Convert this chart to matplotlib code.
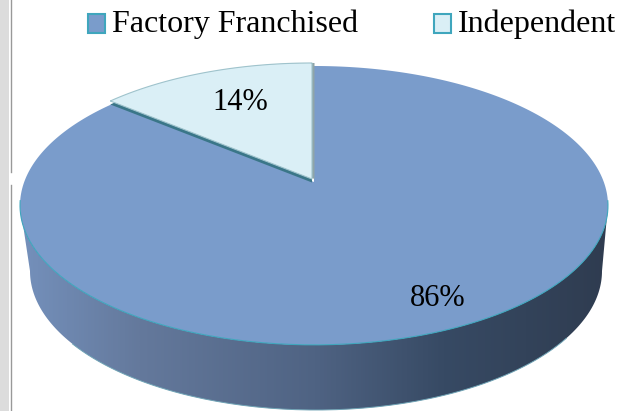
import numpy as np
import matplotlib
matplotlib.use("Agg")
import matplotlib.pyplot as plt
from matplotlib.patches import Polygon, Rectangle, Patch
from matplotlib.colors import LinearSegmentedColormap

categories = ["Factory Franchised", "Independent"]
values = [86, 14]
colors = ["#7a9ccb", "#daeff6"]
edge_colors = ["#3fa6bd", "#3fa6bd"]
label_radius = [0.83, 0.68]
label_nudge = [(6, 0), (4, -1)]

W, H = 636, 411
plt.rcParams["font.family"] = ["Liberation Serif", "DejaVu Serif"]
fig = plt.figure(figsize=(W / 100, H / 100), dpi=100, facecolor="white")
ax = fig.add_axes([0, 0, 1, 1])

# projection of the pie disc (perspective ellipse)
CX, CY = 314, 182
A, B, P = 289.8, 135.5, 0.168


def project(theta, r=1.0, cx=CX, cy=CY):
    """theta: fraction of circle clockwise from 12 o'clock."""
    t = 2 * np.pi * np.asarray(theta)
    u, v = r * np.sin(t), r * np.cos(t)
    d = 1 + P * v
    return cx + A * u / d, cy - B * v / d


fractions = np.array(values) / sum(values)
starts = np.concatenate([[0], np.cumsum(fractions)[:-1]])
ends = starts + fractions
offsets = [(0, 0), (-2, -3)]


def wedge_points(i):
    th = np.linspace(starts[i], ends[i], 300)
    x, y = project(th, 1.0, CX + offsets[i][0], CY + offsets[i][1])
    return np.vstack([[CX + offsets[i][0], CY + offsets[i][1]], np.column_stack([x, y])])


# side wall with horizontal gradient
th_all = np.linspace(0, 1, 721)
xt, yt = project(th_all)
ext_l, ext_r = np.argmin(xt), np.argmax(xt)
order = np.arange(ext_r, ext_l + 1)
tx, ty = xt[order], yt[order]
bot = np.linspace(0, np.pi, 200)
bx = 316 + 286 * np.cos(bot)
by = 271 + 139 * np.sin(bot)
side_pts = np.vstack([np.column_stack([tx, ty]), np.column_stack([bx[::-1], by[::-1]])])
side = Polygon(side_pts, closed=True, facecolor="none", edgecolor="none")
ax.add_patch(side)
cmap = LinearSegmentedColormap.from_list("wall", [(0, "#7490bb"), (0.2, "#64799c"), (0.5, "#4f6383"),
                                                  (0.72, "#374a64"), (1, "#2f3c50")])
img = ax.imshow(np.linspace(0, 1, 600).reshape(1, -1), cmap=cmap, extent=(21, 609, 411, 200),
                aspect="auto", zorder=1)
img.set_clip_path(side)
mask_b = (bot > 0.5) & (bot < 2.6)
ax.plot(bx[mask_b], by[mask_b], color="#6fa3b5", lw=0.7, zorder=1.5)

# main wedge
ax.add_patch(Polygon(wedge_points(0), closed=True, facecolor=colors[0], edgecolor="none", zorder=2))
rim = np.linspace(starts[0], ends[0], 400)
rx, ry = project(rim)
mask = (rim > 0.27) & (rim < 0.73)
ax.plot(rx[mask], ry[mask], color=edge_colors[0], lw=0.8, zorder=2.5)

# inner walls of the exploded slice
pts = wedge_points(1)
ax.add_patch(Polygon(pts + np.array([0, 3.5]), closed=True, facecolor="#3a7688", edgecolor="none", zorder=3))
ax.add_patch(Polygon(pts + np.array([2.5, 0]), closed=True, facecolor="#8fa5a8", edgecolor="none", zorder=3))
ax.add_patch(Polygon(pts, closed=True, facecolor=colors[1], edgecolor="#9fc3cc", lw=0.8, zorder=4))

# percent labels
for i, v in enumerate(values):
    mid = (starts[i] + ends[i]) / 2
    lx, ly = project(mid, label_radius[i], CX + offsets[i][0], CY + offsets[i][1])
    ax.text(lx + label_nudge[i][0], ly + label_nudge[i][1], f"{v}%", fontsize=22,
            ha="center", va="center", color="black", zorder=6)

# legend
handles = [Patch(facecolor=c, edgecolor=e, lw=1.5) for c, e in zip(colors, edge_colors)]
leg = ax.legend(handles, categories, ncol=2, loc="center left", bbox_to_anchor=(88, 24),
                bbox_transform=ax.transData, frameon=False, fontsize=23, borderpad=0, borderaxespad=0,
                handlelength=0.53, handleheight=0.53, handletextpad=0.22, columnspacing=2.38,
                labelcolor="black")
for h in leg.legend_handles:
    h.set_y(h.get_y() - 2)

# window chrome at left edge
ax.add_patch(Rectangle((0, 0), 8.5, H, facecolor="#dcdcdc", edgecolor="none", zorder=0))
ax.plot([10.5, 10.5], [0, 172], color="#999999", lw=1, zorder=0.5)
ax.plot([10.5, 10.5], [185, H], color="#999999", lw=1, zorder=0.5)

ax.set_xlim(0, W)
ax.set_ylim(H, 0)
ax.axis("off")
fig.savefig("out.png", dpi=100, facecolor="white")
